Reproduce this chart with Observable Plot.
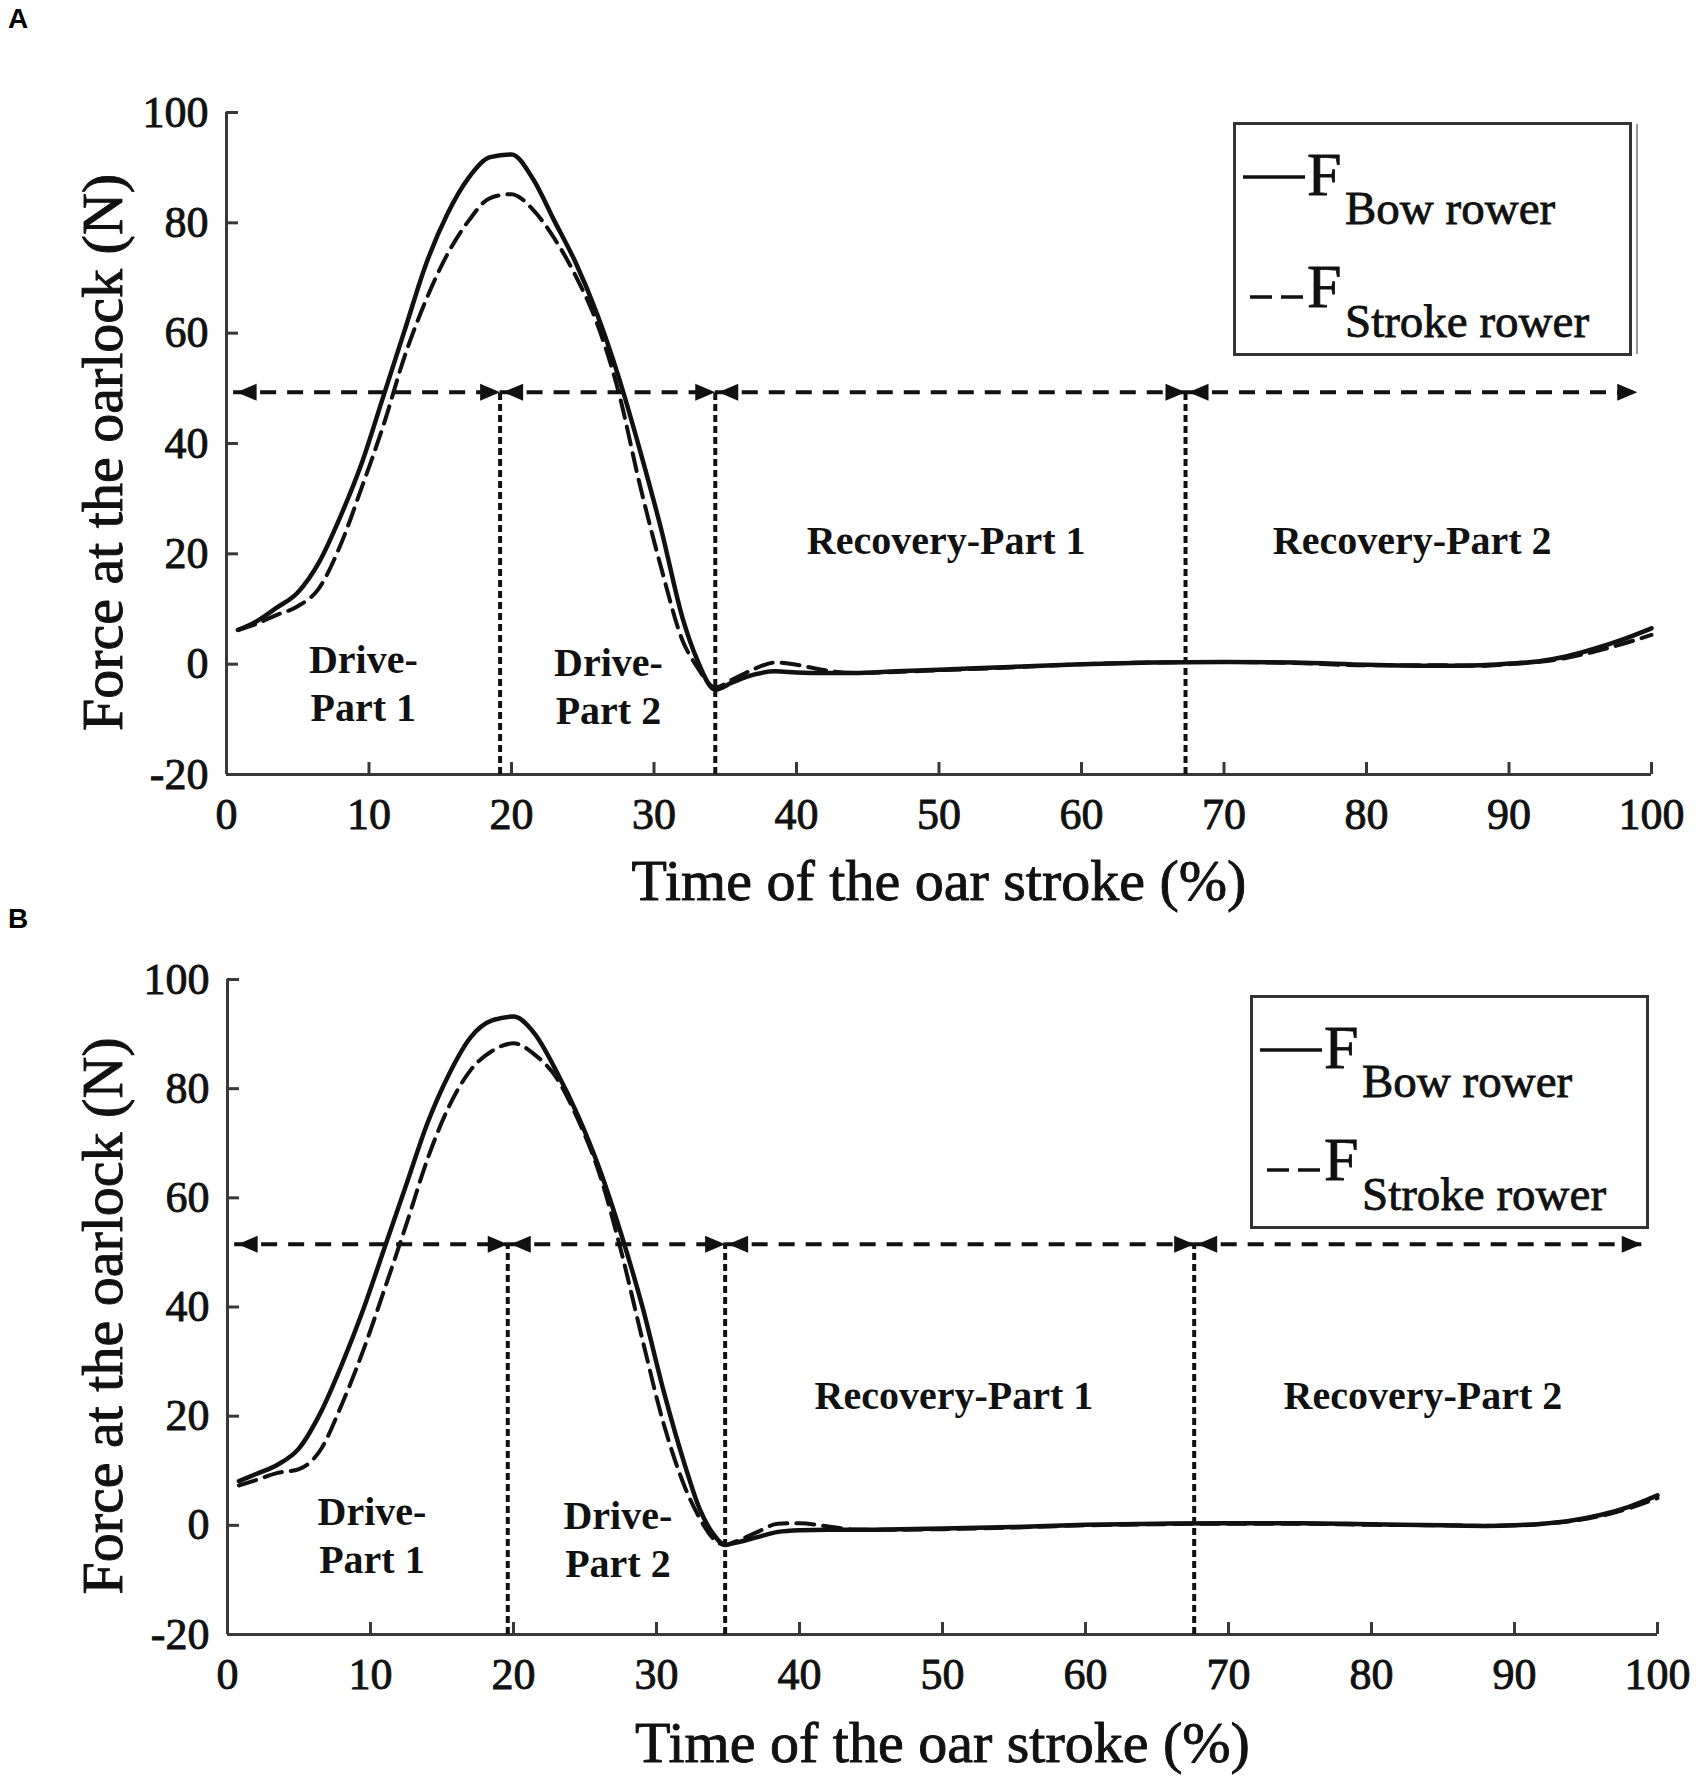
<!DOCTYPE html>
<html>
<head>
<meta charset="utf-8">
<script src="https://cdn.jsdelivr.net/npm/d3@7"></script>
<script src="https://cdn.jsdelivr.net/npm/@observablehq/plot@0.6"></script>
<style>
  html, body { margin: 0; padding: 0; background: #fff; overflow: hidden; }
  #page { position: relative; width: 1700px; height: 1788px; background: #fff; }
  .panel { position: absolute; left: 0; }
  .letter { position: absolute; font-family: "Liberation Sans", Arial, sans-serif; font-weight: bold; font-size: 28px; line-height: 32px; color: #000; }
  .legend { position: absolute; }
  .legend text { stroke: #111; stroke-width: 0.8px; }
  #page svg [aria-label$="tick label"] text { stroke: #111; stroke-width: 0.9px; }
</style>
</head>
<body>
<div id="page">
  <div class="letter" style="left:8px; top:3px;">A</div>
  <div class="letter" style="left:8px; top:903px;">B</div>
  <div id="panelA" class="panel" style="top:0px;"></div>
  <div id="panelB" class="panel" style="top:890px;"></div>
  <svg class="legend" style="left:1233px; top:122px;" width="410" height="236">
    <rect x="1.5" y="1.5" width="396" height="231" fill="#fff" stroke="#333" stroke-width="3"></rect>
    <line x1="404" x2="404" y1="2" y2="232" stroke="#999" stroke-width="2"></line>
    <line x1="10" x2="72" y1="55" y2="55" stroke="#111" stroke-width="3.5"></line>
    <text x="74" y="73" font-family="Liberation Serif, serif" font-size="62" fill="#111">F</text>
    <text x="112" y="102" font-family="Liberation Serif, serif" font-size="47" fill="#111">Bow rower</text>
    <line x1="17" x2="72" y1="175" y2="175" stroke="#111" stroke-width="3.5" stroke-dasharray="22,9"></line>
    <text x="74" y="185" font-family="Liberation Serif, serif" font-size="62" fill="#111">F</text>
    <text x="112" y="215" font-family="Liberation Serif, serif" font-size="47" fill="#111">Stroke rower</text>
  </svg>
  <svg class="legend" style="left:1250px; top:995px;" width="400" height="236">
    <rect x="1.5" y="1.5" width="396" height="231" fill="#fff" stroke="#333" stroke-width="3"></rect>
    <line x1="10" x2="72" y1="55" y2="55" stroke="#111" stroke-width="3.5"></line>
    <text x="74" y="73" font-family="Liberation Serif, serif" font-size="62" fill="#111">F</text>
    <text x="112" y="102" font-family="Liberation Serif, serif" font-size="47" fill="#111">Bow rower</text>
    <line x1="17" x2="72" y1="175" y2="175" stroke="#111" stroke-width="3.5" stroke-dasharray="22,9"></line>
    <text x="74" y="185" font-family="Liberation Serif, serif" font-size="62" fill="#111">F</text>
    <text x="112" y="215" font-family="Liberation Serif, serif" font-size="47" fill="#111">Stroke rower</text>
  </svg>
</div>
<script>
// ---------- data ----------
const xTicks = [0, 10, 20, 30, 40, 50, 60, 70, 80, 90, 100];
const yTicks = [-20, 0, 20, 40, 60, 80, 100];

const xTitle = "Time of the oar stroke (%)";
const yTitle = "Force at the oarlock (N)";
const regionLabels = ["Drive-\nPart 1", "Drive-\nPart 2", "Recovery-Part 1", "Recovery-Part 2"];

// Panel A
const timeA = [0.8,2,3.5,5,6.5,8,9.5,11,12.5,14,15.5,17,18.5,20,21.5,23,24.5,26,27.5,29,30.5,32,33,34.3,35.5,37,38.5,40,42,44,47,50,55,60,65,70,75,80,85,88,90,92,94,96,98,100];
const bowA = [6.2,7.6,10.2,13.0,18.5,26.8,36.5,48.5,60.5,72.5,81.6,88.2,91.9,92.4,88.0,80.4,72.8,63.5,52.2,38.9,24.5,8.4,1.0,-4.6,-3.3,-1.9,-1.3,-1.5,-1.6,-1.6,-1.3,-1.0,-0.5,0,0.3,0.4,0.3,-0.1,-0.3,-0.2,0.1,0.5,1.4,2.8,4.5,6.5];
const strokeA = [6.2,7.2,8.9,10.5,13.8,21.6,32.1,43.2,55.8,66.0,74.3,80.4,84.5,85.2,82.4,77.2,70.4,61.8,49.5,32.6,17.5,4.3,-0.4,-4.2,-2.8,-0.9,0.3,-0.1,-1.1,-1.6,-1.4,-1.1,-0.6,0,0.3,0.4,0.2,-0.2,-0.2,-0.3,0,0.4,1.1,2.3,3.7,5.3];
const phasesA = [19.2, 34.3, 67.3];
const arrowYA = 49.3;
const arrowSpanA = [0.5, 99];
const labelXA = [9.6, 26.8, 50.5, 83.2];
const labelYA = [-3.1, -3.7, 22.8, 22.8];

// Panel B
const timeB = [0.8,2,3.5,5,6.5,8,9.5,11,12.5,14,15.5,17,18.5,20,21.5,23,24.5,26,27.5,29,30.5,32,33,34,34.8,35.5,37,38.5,40,42,44,47,50,55,60,65,70,75,80,85,88,90,92,94,96,98,100];
const bowB = [8.1,9.4,11.1,14.1,20.6,29.5,39.6,51.0,62.4,73.8,82.7,89.4,92.5,93.2,90.0,83.2,75.1,65.4,53.6,40.2,24.6,10.9,3.1,-1.7,-3.6,-3.2,-2.2,-1.2,-0.9,-0.8,-0.8,-0.7,-0.6,-0.3,0.1,0.3,0.4,0.4,0.2,0,-0.1,0,0.3,0.9,1.9,3.4,5.5];
const strokeB = [7.3,8.3,9.6,10.3,13.8,22.2,32.1,43.4,55.1,67.2,76.8,83.4,86.9,88.3,86.2,82.0,74.4,64.5,50.5,34.2,18.6,6.9,1.4,-2.5,-3.6,-3.0,-1.3,0.3,0.4,-0.2,-0.8,-0.8,-0.7,-0.4,0,0.2,0.3,0.3,0.1,0,-0.1,0,0.3,0.8,1.7,3.1,5.0];
const phasesB = [19.6, 34.8, 67.6];
const arrowYB = 51.5;
const arrowSpanB = [0.5, 98.9];
const labelXB = [10.1, 27.3, 50.8, 83.6];
const labelYB = [-1.5, -2.2, 24.1, 24.1];

// ---------- drawing ----------
const ink = "#111";
const axisInk = "#383838";

const arrowRight = {draw(ctx) { ctx.moveTo(0, 0); ctx.lineTo(-20, -8.5); ctx.lineTo(-20, 8.5); ctx.closePath(); }};
const arrowLeft = {draw(ctx) { ctx.moveTo(0, 0); ctx.lineTo(20, -8.5); ctx.lineTo(20, 8.5); ctx.closePath(); }};

function panel(o) {
  const bounds = [o.span[0], ...o.phases, o.span[1]];
  const segs = d3.pairs(bounds).map(([a, b]) => ({x1: a, x2: b}));
  const bow = o.time.map((t, i) => ({t, v: o.bow[i]}));
  const str = o.time.map((t, i) => ({t, v: o.stroke[i]}));
  const labels = regionLabels.map((s, i) => ({s, x: o.labelX[i], y: o.labelY[i]}));
  return Plot.plot({
    width: 1700,
    height: o.height,
    marginTop: o.marginTop,
    marginBottom: o.marginBottom,
    marginLeft: o.marginLeft,
    marginRight: o.marginRight,
    style: {fontFamily: "'Liberation Serif', 'Times New Roman', serif", fontSize: "44px", background: "transparent", overflow: "visible", color: ink},
    x: {domain: [0, 100]},
    y: {domain: [-20, 100]},
    marks: [
      Plot.ruleX([0], {stroke: axisInk, strokeWidth: 3}),
      Plot.ruleY([-20], {stroke: axisInk, strokeWidth: 3}),
      Plot.axisX(xTicks, {tickSize: -12, tickPadding: 35, tickFormat: d => String(d), label: null, stroke: axisInk, strokeWidth: 3, fill: ink, fontSize: 44}),
      Plot.axisY(yTicks, {tickSize: -12, tickPadding: 30, tickFormat: d => String(d), label: null, stroke: axisInk, strokeWidth: 3, fill: ink, fontSize: 44}),
      Plot.ruleX(o.phases, {y1: -20, y2: o.arrowY, stroke: ink, strokeWidth: 4, strokeDasharray: "7,4"}),
      Plot.ruleY(segs, {x1: "x1", x2: "x2", y: o.arrowY, stroke: ink, strokeWidth: 4, strokeDasharray: "16,11"}),
      Plot.dot(segs, {x: "x2", y: o.arrowY, symbol: arrowRight, fill: ink, r: 6}),
      Plot.dot(segs, {x: "x1", y: o.arrowY, symbol: arrowLeft, fill: ink, r: 6, dx: 3}),
      Plot.line(str, {x: "t", y: "v", stroke: ink, strokeWidth: 4, strokeDasharray: "18,9", curve: "monotone-x"}),
      Plot.line(bow, {x: "t", y: "v", stroke: ink, strokeWidth: 4.5, curve: "monotone-x"}),
      Plot.text(labels, {x: "x", y: "y", text: "s", fontWeight: "bold", fontSize: 40, lineHeight: 1.2, fill: ink}),
      Plot.text([xTitle], {frameAnchor: "bottom", textAnchor: "middle", dy: o.titleDy, fontSize: 58, fill: ink, stroke: ink, strokeWidth: 0.9}),
      Plot.text([yTitle], {frameAnchor: "left", textAnchor: "middle", rotate: -90, dx: o.yTitleDx, dy: 9, fontSize: 58, fill: ink, stroke: ink, strokeWidth: 0.9})
    ]
  });
}

document.getElementById("panelA").append(panel({
  time: timeA, bow: bowA, stroke: strokeA, phases: phasesA, arrowY: arrowYA, span: arrowSpanA,
  labelX: labelXA, labelY: labelYA,
  height: 930, marginTop: 112, marginBottom: 156, marginLeft: 226, marginRight: 49,
  titleDy: 125, yTitleDx: -123
}));
document.getElementById("panelB").append(panel({
  time: timeB, bow: bowB, stroke: strokeB, phases: phasesB, arrowY: arrowYB, span: arrowSpanB,
  labelX: labelXB, labelY: labelYB,
  height: 898, marginTop: 89, marginBottom: 154, marginLeft: 227, marginRight: 43,
  titleDy: 127, yTitleDx: -124
}));
</script>
</body>
</html>
